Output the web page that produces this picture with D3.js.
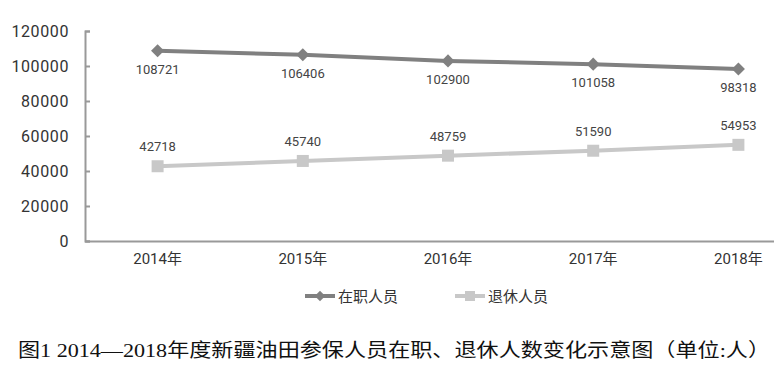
<!DOCTYPE html>
<html>
<head>
<meta charset="utf-8">
<script src="https://cdn.jsdelivr.net/npm/d3@7"></script>
<style>
  body { margin: 0; background: #fff; }
  svg { display: block; }
  text { font-family: Roboto, "Noto Sans CJK SC", sans-serif; }
</style>
</head>
<body>
<script>
const years = ["2014年", "2015年", "2016年", "2017年", "2018年"];
const onJob = [108721, 106406, 102900, 101058, 98318];
const retired = [42718, 45740, 48759, 51590, 54953];
const yTicks = [0, 20000, 40000, 60000, 80000, 100000, 120000];
const seriesNames = ["在职人员", "退休人员"];
const caption = "图1 2014—2018年度新疆油田参保人员在职、退休人数变化示意图（单位:人）";

var w = 774;
var h = 377;

var svg = d3.select("body")
    .append("svg")
    .attr("width", w)
    .attr("height", h);

var x = d3.scaleBand()
    .domain(years)
    .range([85, 811]);

var y = d3.scaleLinear()
    .domain([0, 120000])
    .range([241, 31]);

var cx = function(d, i) { return x(years[i]) + x.bandwidth() / 2; };

// y axis
var yAxis = svg.append("g")
    .attr("transform", "translate(85,0)")
    .call(d3.axisLeft(y).tickValues(yTicks).tickFormat(d3.format("d")).tickSize(-5).tickPadding(16));
yAxis.select(".domain").attr("stroke", "#999").attr("stroke-width", 2);
yAxis.selectAll(".tick line").attr("stroke", "#999").attr("stroke-width", 2);
yAxis.selectAll("text")
    .attr("fill", "#333")
    .style("font-size", "16px")
    .style("letter-spacing", "0.6px");

// x axis
var xAxis = svg.append("g")
    .attr("transform", "translate(0,241)")
    .call(d3.axisBottom(x).tickSize(0).tickPadding(12));
xAxis.select(".domain").attr("stroke", "#999").attr("stroke-width", 2);
xAxis.selectAll("text")
    .attr("fill", "#333")
    .style("font-size", "15px");

var line = d3.line()
    .x(cx)
    .y(function(d) { return y(d); });

// 在职人员
svg.append("path")
    .datum(onJob)
    .attr("d", line)
    .attr("fill", "none")
    .attr("stroke", "#808080")
    .attr("stroke-width", 4);

svg.selectAll("path.dia")
    .data(onJob)
    .enter()
    .append("path")
    .attr("class", "dia")
    .attr("d", d3.symbol().type(d3.symbolDiamond2).size(110))
    .attr("transform", function(d, i) { return "translate(" + cx(d, i) + "," + y(d) + ")"; })
    .attr("fill", "#808080");

svg.selectAll("text.lab1")
    .data(onJob)
    .enter()
    .append("text")
    .attr("class", "lab1")
    .attr("x", cx)
    .attr("y", function(d) { return y(d) + 23; })
    .attr("text-anchor", "middle")
    .attr("fill", "#444")
    .style("font-size", "13px")
    .text(function(d) { return d; });

// 退休人员
svg.append("path")
    .datum(retired)
    .attr("d", line)
    .attr("fill", "none")
    .attr("stroke", "#c8c8c8")
    .attr("stroke-width", 4);

svg.selectAll("rect.sq")
    .data(retired)
    .enter()
    .append("rect")
    .attr("class", "sq")
    .attr("x", function(d, i) { return cx(d, i) - 6; })
    .attr("y", function(d) { return y(d) - 6; })
    .attr("width", 12)
    .attr("height", 12)
    .attr("fill", "#c8c8c8");

svg.selectAll("text.lab2")
    .data(retired)
    .enter()
    .append("text")
    .attr("class", "lab2")
    .attr("x", cx)
    .attr("y", function(d) { return y(d) - 15; })
    .attr("text-anchor", "middle")
    .attr("fill", "#444")
    .style("font-size", "13px")
    .text(function(d) { return d; });

// legend
var legend = svg.append("g").attr("transform", "translate(305,296)");
var lg1 = legend.append("g");
lg1.append("line").attr("x1", 0).attr("x2", 30).attr("y1", 0).attr("y2", 0)
    .attr("stroke", "#808080").attr("stroke-width", 4);
lg1.append("path").attr("d", d3.symbol().type(d3.symbolDiamond2).size(70))
    .attr("transform", "translate(15,0)").attr("fill", "#808080");
lg1.append("text").attr("x", 33).attr("y", 6).attr("fill", "#333")
    .style("font-size", "15px").text(seriesNames[0]);

var lg2 = legend.append("g").attr("transform", "translate(150,0)");
lg2.append("line").attr("x1", 0).attr("x2", 30).attr("y1", 0).attr("y2", 0)
    .attr("stroke", "#c8c8c8").attr("stroke-width", 4);
lg2.append("rect").attr("x", 10).attr("y", -5).attr("width", 10).attr("height", 10)
    .attr("fill", "#c8c8c8");
lg2.append("text").attr("x", 33).attr("y", 6).attr("fill", "#333")
    .style("font-size", "15px").text(seriesNames[1]);

// caption
svg.append("text")
    .attr("x", 18)
    .attr("y", 357)
    .attr("textLength", 752)
    .attr("lengthAdjust", "spacingAndGlyphs")
    .attr("fill", "#111")
    .style("font-family", "'Liberation Serif', 'Noto Sans CJK SC', serif")
    .style("font-size", "19px")
    .text(caption);
</script>
</body>
</html>
